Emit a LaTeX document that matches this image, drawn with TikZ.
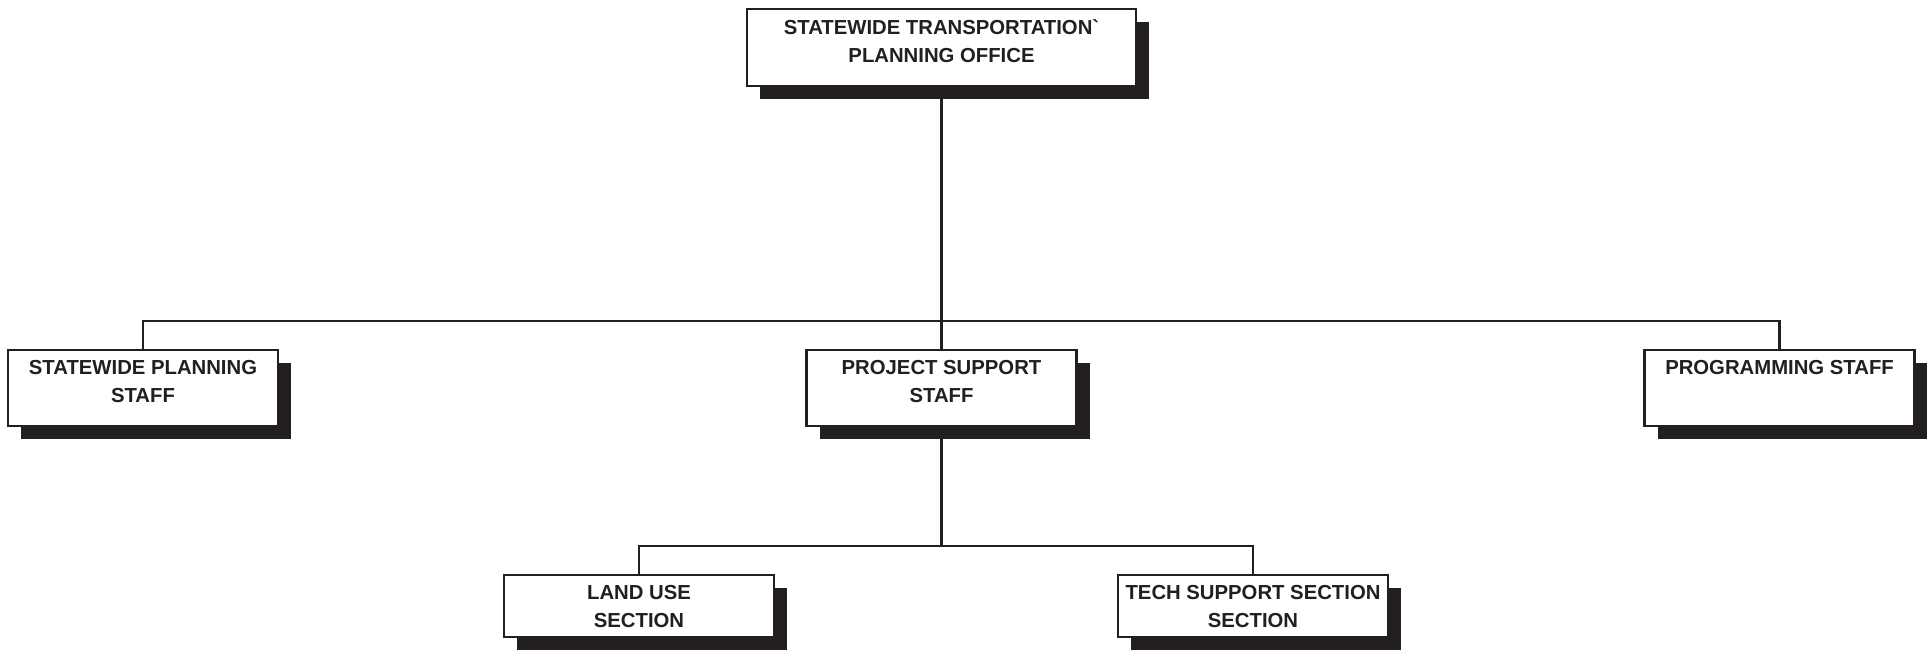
\documentclass[tikz,border=0pt]{standalone}
\usepackage{fontspec}
\setmainfont{Liberation Sans}[Ligatures=TeXOff]
\usetikzlibrary{shadows}
\definecolor{ink}{RGB}{35,31,32}
\begin{document}
\begin{tikzpicture}[x=1pt,y=-1pt,
  orgbox/.style={draw=ink, line width=2.7pt, fill=white, inner sep=0pt,
    general shadow={fill=ink, shadow xshift=13pt, shadow yshift=-13pt}},
  lbl/.style={anchor=north, inner sep=0pt, align=center, text=ink,
    font=\fontsize{20.3}{27.8}\selectfont\bfseries},
  wire/.style={draw=ink, line width=2.6pt}]
\useasboundingbox (0,0) rectangle (1927,649);
% boxes
\node[orgbox, minimum width=389pt, minimum height=77pt] (top) at (941.5,47.5) {};
\node[orgbox, minimum width=270pt, minimum height=76pt] (sp) at (143,388) {};
\node[orgbox, minimum width=270pt, minimum height=76pt] (ps) at (941.5,388) {};
\node[orgbox, minimum width=270pt, minimum height=76pt] (pg) at (1779.5,388) {};
\node[orgbox, minimum width=270pt, minimum height=62pt] (lu) at (639,606) {};
\node[orgbox, minimum width=270pt, minimum height=62pt] (ts) at (1253,606) {};
% labels
\node[lbl] (toptext) at ([yshift=-11.5pt]top.north) {STATEWIDE TRANSPORTATION`\\PLANNING OFFICE};
\node[lbl] (sptext) at ([yshift=-11.5pt]sp.north) {STATEWIDE PLANNING\\STAFF};
\node[lbl] (pstext) at ([yshift=-11.5pt]ps.north) {PROJECT SUPPORT\\STAFF};
\node[lbl] (pgtext) at ([yshift=-11.5pt]pg.north) {PROGRAMMING STAFF};
\node[lbl] (lutext) at ([yshift=-11.5pt]lu.north) {LAND USE\\SECTION};
\node[lbl] (tstext) at ([yshift=-11.5pt]ts.north) {TECH SUPPORT SECTION\\SECTION};
% connectors
\coordinate (bus1) at (941.5,321);
\coordinate (bus2) at (941.5,546);
\draw[wire] (top.south) -- (ps.north);
\draw[wire] (sp.north) -- (sp.north |- bus1) -- (pg.north |- bus1) -- (pg.north);
\draw[wire] (ps.south) -- (bus2);
\draw[wire] (lu.north) -- (lu.north |- bus2) -- (ts.north |- bus2) -- (ts.north);
\end{tikzpicture}
\end{document}
